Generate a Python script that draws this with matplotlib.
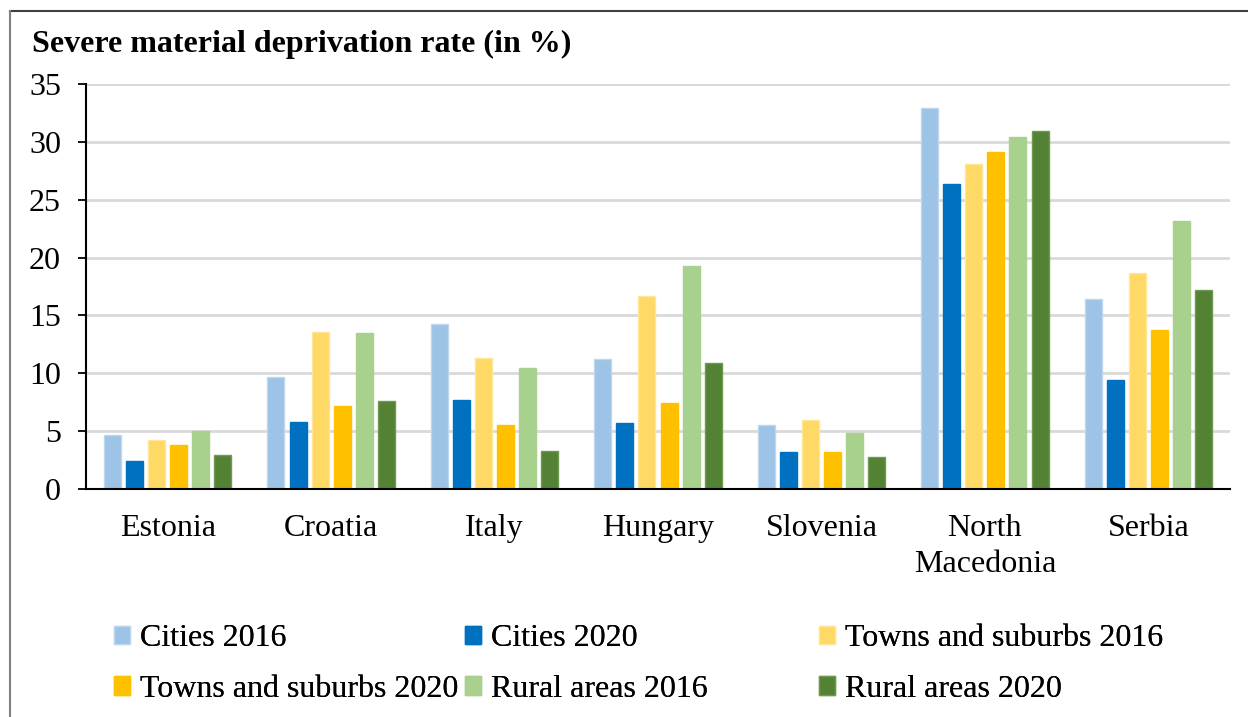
import numpy as np
import matplotlib.pyplot as plt
from matplotlib.lines import Line2D

countries = ['Estonia', 'Croatia', 'Italy', 'Hungary', 'Slovenia', 'North\nMacedonia', 'Serbia']
series_names = ['Cities 2016', 'Cities 2020', 'Towns and suburbs 2016',
                'Towns and suburbs 2020', 'Rural areas 2016', 'Rural areas 2020']
cities_2016 = [4.7, 9.7, 14.3, 11.2, 5.5, 32.9, 16.4]
cities_2020 = [2.4, 5.8, 7.7, 5.7, 3.2, 26.4, 9.4]
towns_2016 = [4.2, 13.6, 11.3, 16.7, 6.0, 28.1, 18.7]
towns_2020 = [3.8, 7.2, 5.5, 7.4, 3.2, 29.1, 13.7]
rural_2016 = [5.0, 13.5, 10.5, 19.3, 4.8, 30.4, 23.2]
rural_2020 = [2.9, 7.6, 3.3, 10.9, 2.8, 30.9, 17.2]
yticks = [0, 5, 10, 15, 20, 25, 30, 35]

colors = ['#9DC3E6', '#0070C0', '#FFD966', '#FFC000', '#A9D18E', '#548235']
edges = ['#BDD7EE', '#0070C0', '#FFE699', '#FFC000', '#A9D18E', '#6E9A4F']

plt.rcParams['font.family'] = ['Liberation Serif', 'DejaVu Serif']

W, H = 1248, 717
fig = plt.figure(figsize=(W / 100, H / 100), dpi=100)
ax = fig.add_axes([86 / W, 1 - 489 / H, (1230 - 86) / W, (489 - 84) / H])

data = [cities_2016, cities_2020, towns_2016, towns_2020, rural_2016, rural_2020]
x = np.arange(len(countries))
pitch = 0.135
width = 0.104
handles = []
for i, vals in enumerate(data):
    b = ax.bar(x + (i - 2.5) * pitch, vals, width, color=colors[i],
               edgecolor=edges[i], linewidth=1, label=series_names[i], zorder=3)
    handles.append(b)

ax.set_xlim(-0.5, len(countries) - 0.5)
ax.set_ylim(0, 35)
ax.set_yticks(yticks)
ax.set_xticks(x)
ax.set_xticklabels(countries, fontsize=23, linespacing=1.3)
ax.tick_params(axis='y', labelsize=23, length=6, width=1.3, direction='out', pad=12)
ax.tick_params(axis='x', length=0, pad=18)
ax.grid(axis='y', color='#D9D9D9', linewidth=2, zorder=0)
for s in ['top', 'right']:
    ax.spines[s].set_visible(False)
ax.spines['left'].set_linewidth(1.5)
ax.spines['bottom'].set_linewidth(1.5)
ax.spines['left'].set_zorder(4)
ax.spines['bottom'].set_zorder(4)

fig.text(32 / W, 1 - 44 / H, 'Severe material deprivation rate (in %)',
         fontsize=23, fontweight='bold', va='center', ha='left')

# one legend per column so the column positions match
col_x = [114, 465, 819]
cols = [[0, 3], [1, 4], [2, 5]]
for cx, idx in zip(col_x, cols):
    leg = fig.legend([handles[i] for i in idx], [series_names[i] for i in idx],
                     ncol=1, loc='center left', bbox_to_anchor=(cx / W, 1 - 664 / H),
                     frameon=False, fontsize=23, handlelength=0.5, handleheight=0.5,
                     handletextpad=0.3, labelspacing=0.68,
                     borderaxespad=0, borderpad=0)
    fig.add_artist(leg)

fig.add_artist(Line2D([10 / W, 1], [1 - 11 / H, 1 - 11 / H], color='#404040', linewidth=1.5))
fig.add_artist(Line2D([10 / W, 10 / W], [0, 1 - 11 / H], color='#808080', linewidth=1.5))

fig.savefig('out.png', dpi=100)
